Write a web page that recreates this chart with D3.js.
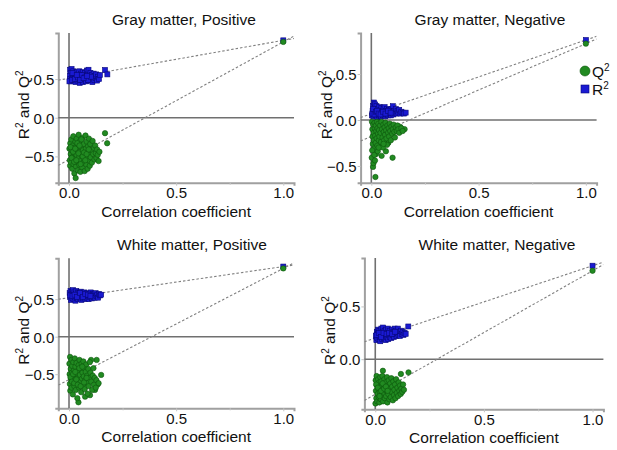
<!DOCTYPE html>
<html><head><meta charset="utf-8">
<script src="https://cdn.jsdelivr.net/npm/d3@7/dist/d3.min.js"></script>
<style>
html,body{margin:0;padding:0;background:#fff;}
svg text{font-family:"Liberation Sans",Arial,Helvetica,sans-serif;fill:#111;}
</style></head>
<body><svg id="c" width="617" height="450"></svg>
<script>
// ---- data ----
const titles = ["Gray matter, Positive","Gray matter, Negative","White matter, Positive","White matter, Negative"];
const xTicks = [0, 0.5, 1.0];
const xMinorTicks = [0.25, 0.75];
const yTicksByPanel = [[-0.5,0,0.5],[-0.5,0,0.5],[-0.5,0,0.5],[0,0.5]];
// original (non-permuted) model values at correlation 1
const origR2 = [1.00, 0.87, 0.935, 0.886];
const origQ2 = [0.98, 0.83, 0.91, 0.838];
// regression-line intercepts
const interceptR2 = [0.51, 0.067, 0.52, 0.20];
const interceptQ2 = [-0.54, -0.179, -0.572, -0.333];

const gpR2 = [[0.005,0.62],[0.012,0.63],[0.008,0.58],[0.004,0.54],[0.006,0.50],[0.010,0.47],[0.015,0.52],[0.018,0.56],[0.020,0.60],[0.022,0.49],[0.025,0.54],[0.028,0.57],[0.030,0.46],[0.032,0.51],[0.035,0.59],[0.038,0.53],[0.040,0.48],[0.043,0.56],[0.046,0.50],[0.048,0.60],[0.050,0.45],[0.053,0.53],[0.056,0.57],[0.058,0.49],[0.061,0.52],[0.064,0.59],[0.066,0.46],[0.069,0.55],[0.072,0.50],[0.075,0.58],[0.078,0.53],[0.080,0.47],[0.083,0.61],[0.086,0.51],[0.089,0.56],[0.091,0.62],[0.094,0.48],[0.097,0.54],[0.100,0.58],[0.103,0.50],[0.106,0.55],[0.109,0.46],[0.112,0.52],[0.115,0.57],[0.118,0.49],[0.121,0.54],[0.124,0.51],[0.127,0.56],[0.131,0.48],[0.135,0.53],[0.140,0.50],[0.144,0.55],[0.168,0.617],[0.179,0.56],[0.002,0.47],[0.014,0.49],[0.027,0.50],[0.042,0.52],[0.059,0.55],[0.074,0.52],[0.088,0.49],[0.102,0.53],[0.016,0.58],[0.036,0.55],[0.052,0.49],[0.068,0.51],[0.084,0.54]];
const gpQ2 = [[0.002,-0.40],[0.004,-0.55],[0.005,-0.62],[0.006,-0.33],[0.008,-0.47],[0.010,-0.58],[0.011,-0.28],[0.013,-0.42],[0.015,-0.66],[0.016,-0.51],[0.018,-0.36],[0.020,-0.24],[0.021,-0.60],[0.023,-0.45],[0.025,-0.72],[0.026,-0.39],[0.028,-0.53],[0.030,-0.31],[0.031,-0.78],[0.033,-0.63],[0.035,-0.48],[0.036,-0.27],[0.038,-0.57],[0.040,-0.42],[0.041,-0.68],[0.043,-0.35],[0.045,-0.22],[0.046,-0.52],[0.048,-0.61],[0.050,-0.44],[0.052,-0.30],[0.053,-0.70],[0.055,-0.56],[0.057,-0.38],[0.059,-0.49],[0.061,-0.64],[0.063,-0.26],[0.065,-0.42],[0.067,-0.58],[0.069,-0.34],[0.071,-0.53],[0.073,-0.69],[0.075,-0.46],[0.077,-0.23],[0.079,-0.40],[0.081,-0.61],[0.083,-0.31],[0.085,-0.50],[0.087,-0.66],[0.089,-0.37],[0.091,-0.55],[0.093,-0.27],[0.095,-0.45],[0.097,-0.62],[0.099,-0.34],[0.101,-0.51],[0.104,-0.42],[0.107,-0.58],[0.110,-0.30],[0.113,-0.47],[0.116,-0.39],[0.119,-0.54],[0.122,-0.36],[0.125,-0.46],[0.128,-0.52],[0.131,-0.41],[0.134,-0.48],[0.138,-0.56],[0.142,-0.44],[0.168,-0.20],[0.178,-0.33],[0.007,-0.38],[0.012,-0.52],[0.019,-0.44],[0.024,-0.57],[0.029,-0.40],[0.034,-0.55],[0.039,-0.33],[0.044,-0.46],[0.049,-0.36],[0.054,-0.60],[0.058,-0.28],[0.064,-0.50],[0.070,-0.45],[0.076,-0.55],[0.082,-0.47],[0.092,-0.41]];

const gnR2 = [[0.003,0.05],[0.006,0.10],[0.008,0.15],[0.010,0.04],[0.012,0.19],[0.014,0.08],[0.016,0.13],[0.018,0.17],[0.020,0.05],[0.022,0.11],[0.024,0.15],[0.026,0.07],[0.028,0.03],[0.030,0.12],[0.032,0.09],[0.035,0.05],[0.037,0.14],[0.040,0.08],[0.042,0.11],[0.045,0.04],[0.047,0.13],[0.050,0.07],[0.052,0.10],[0.055,0.05],[0.057,0.12],[0.060,0.08],[0.062,0.14],[0.065,0.04],[0.068,0.10],[0.070,0.06],[0.073,0.12],[0.076,0.08],[0.079,0.05],[0.082,0.11],[0.085,0.07],[0.088,0.09],[0.091,0.05],[0.094,0.12],[0.097,0.08],[0.100,0.15],[0.103,0.06],[0.106,0.10],[0.110,0.08],[0.114,0.12],[0.118,0.07],[0.122,0.10],[0.126,0.08],[0.130,0.11],[0.135,0.07],[0.140,0.09],[0.146,0.08],[0.152,0.07],[0.160,0.08],[0.005,0.07],[0.009,0.12],[0.015,0.06],[0.021,0.09],[0.027,0.10],[0.034,0.07],[0.043,0.06],[0.054,0.09],[0.066,0.07],[0.078,0.10],[0.090,0.08]];
const gnQ2 = [[0.019,-0.62],[0.008,-0.51],[0.010,-0.47],[0.002,-0.41],[0.022,-0.37],[0.048,-0.39],[0.068,-0.34],[0.099,-0.41],[0.040,-0.29],[0.079,-0.25],[0.155,-0.10],[0.135,-0.075],[0.003,-0.02],[0.005,-0.10],[0.006,-0.18],[0.007,-0.26],[0.009,-0.05],[0.011,-0.14],[0.012,-0.22],[0.013,-0.31],[0.015,-0.03],[0.016,-0.09],[0.018,-0.17],[0.020,-0.25],[0.021,-0.06],[0.023,-0.12],[0.025,-0.20],[0.026,-0.02],[0.028,-0.28],[0.029,-0.09],[0.031,-0.15],[0.033,-0.04],[0.035,-0.22],[0.036,-0.11],[0.038,-0.18],[0.041,-0.06],[0.043,-0.14],[0.045,-0.24],[0.047,-0.02],[0.050,-0.10],[0.052,-0.19],[0.054,-0.30],[0.056,-0.05],[0.058,-0.13],[0.060,-0.22],[0.062,-0.08],[0.064,-0.16],[0.066,-0.03],[0.069,-0.11],[0.071,-0.20],[0.073,-0.27],[0.075,-0.06],[0.078,-0.14],[0.081,-0.09],[0.083,-0.18],[0.086,-0.04],[0.088,-0.12],[0.091,-0.22],[0.094,-0.07],[0.097,-0.15],[0.100,-0.10],[0.104,-0.05],[0.107,-0.13],[0.110,-0.19],[0.114,-0.08],[0.118,-0.12],[0.122,-0.06],[0.126,-0.10],[0.130,-0.14],[0.140,-0.09],[0.146,-0.12],[0.004,-0.33],[0.014,-0.38],[0.017,-0.44],[0.030,-0.34],[0.034,-0.30],[0.057,-0.26]];

const wpR2 = [[0.003,0.58],[0.005,0.53],[0.007,0.61],[0.009,0.49],[0.011,0.56],[0.013,0.60],[0.015,0.52],[0.017,0.57],[0.019,0.62],[0.021,0.50],[0.023,0.55],[0.025,0.59],[0.028,0.53],[0.030,0.48],[0.032,0.57],[0.034,0.61],[0.036,0.51],[0.039,0.55],[0.041,0.59],[0.043,0.50],[0.046,0.54],[0.048,0.58],[0.050,0.52],[0.053,0.56],[0.055,0.60],[0.058,0.49],[0.060,0.54],[0.063,0.57],[0.066,0.51],[0.068,0.55],[0.071,0.59],[0.074,0.53],[0.077,0.50],[0.080,0.56],[0.083,0.52],[0.086,0.58],[0.089,0.54],[0.092,0.50],[0.095,0.56],[0.098,0.53],[0.101,0.59],[0.104,0.55],[0.107,0.51],[0.110,0.57],[0.113,0.53],[0.116,0.56],[0.120,0.52],[0.124,0.58],[0.128,0.54],[0.132,0.56],[0.136,0.52],[0.140,0.57],[0.145,0.55],[0.150,0.56],[0.006,0.55],[0.016,0.54],[0.026,0.56],[0.038,0.53],[0.052,0.58],[0.064,0.53],[0.076,0.57],[0.088,0.56],[0.100,0.54]];
const wpQ2 = [[0.005,-0.27],[0.103,-0.31],[0.129,-0.31],[0.150,-0.51],[0.044,-0.875],[0.075,-0.80],[0.098,-0.78],[0.121,-0.71],[0.133,-0.64],[0.002,-0.36],[0.003,-0.50],[0.004,-0.63],[0.006,-0.72],[0.008,-0.43],[0.009,-0.56],[0.011,-0.31],[0.012,-0.68],[0.014,-0.48],[0.015,-0.39],[0.017,-0.60],[0.018,-0.77],[0.020,-0.34],[0.022,-0.53],[0.023,-0.45],[0.025,-0.66],[0.027,-0.29],[0.028,-0.58],[0.030,-0.40],[0.032,-0.71],[0.033,-0.50],[0.035,-0.35],[0.037,-0.62],[0.039,-0.82],[0.040,-0.46],[0.042,-0.55],[0.045,-0.38],[0.047,-0.68],[0.049,-0.31],[0.051,-0.51],[0.053,-0.60],[0.055,-0.43],[0.057,-0.74],[0.059,-0.36],[0.061,-0.56],[0.063,-0.48],[0.065,-0.65],[0.067,-0.33],[0.069,-0.53],[0.071,-0.42],[0.073,-0.70],[0.076,-0.58],[0.078,-0.47],[0.080,-0.37],[0.083,-0.62],[0.085,-0.52],[0.087,-0.76],[0.090,-0.43],[0.092,-0.66],[0.095,-0.55],[0.097,-0.34],[0.100,-0.48],[0.104,-0.60],[0.108,-0.71],[0.111,-0.52],[0.114,-0.42],[0.117,-0.64],[0.120,-0.55],[0.125,-0.68],[0.128,-0.58],[0.138,-0.62],[0.007,-0.54],[0.013,-0.60],[0.019,-0.50],[0.024,-0.62],[0.029,-0.47],[0.034,-0.57],[0.041,-0.64],[0.048,-0.42],[0.054,-0.66],[0.062,-0.40],[0.070,-0.61],[0.082,-0.55]];

const wnR2 = [[0.003,0.22],[0.005,0.18],[0.007,0.26],[0.009,0.20],[0.011,0.24],[0.013,0.28],[0.015,0.19],[0.017,0.23],[0.019,0.27],[0.021,0.21],[0.023,0.17],[0.025,0.25],[0.028,0.29],[0.030,0.22],[0.032,0.19],[0.034,0.26],[0.036,0.30],[0.039,0.23],[0.041,0.20],[0.043,0.27],[0.046,0.24],[0.048,0.18],[0.050,0.28],[0.053,0.21],[0.055,0.25],[0.058,0.29],[0.060,0.19],[0.063,0.23],[0.066,0.27],[0.068,0.21],[0.071,0.25],[0.074,0.20],[0.077,0.28],[0.080,0.23],[0.083,0.26],[0.086,0.21],[0.089,0.29],[0.092,0.24],[0.095,0.27],[0.098,0.22],[0.101,0.25],[0.104,0.29],[0.107,0.23],[0.110,0.26],[0.114,0.22],[0.118,0.27],[0.122,0.24],[0.126,0.26],[0.130,0.23],[0.135,0.25],[0.140,0.24],[0.152,0.31],[0.006,0.23],[0.016,0.25],[0.026,0.21],[0.038,0.25],[0.052,0.24],[0.064,0.25],[0.078,0.24],[0.090,0.26]];
const wnQ2 = [[0.035,-0.11],[0.118,-0.14],[0.153,-0.125],[0.001,-0.42],[0.002,-0.20],[0.003,-0.30],[0.005,-0.37],[0.006,-0.16],[0.008,-0.25],[0.009,-0.40],[0.011,-0.33],[0.013,-0.19],[0.014,-0.28],[0.016,-0.36],[0.018,-0.22],[0.019,-0.41],[0.021,-0.31],[0.023,-0.17],[0.025,-0.26],[0.026,-0.38],[0.028,-0.21],[0.030,-0.34],[0.032,-0.29],[0.033,-0.16],[0.036,-0.40],[0.038,-0.24],[0.040,-0.32],[0.042,-0.19],[0.044,-0.37],[0.046,-0.27],[0.048,-0.22],[0.050,-0.35],[0.052,-0.30],[0.054,-0.17],[0.056,-0.41],[0.058,-0.25],[0.060,-0.33],[0.062,-0.20],[0.065,-0.38],[0.067,-0.28],[0.069,-0.23],[0.071,-0.36],[0.074,-0.18],[0.076,-0.31],[0.078,-0.26],[0.081,-0.39],[0.083,-0.21],[0.086,-0.34],[0.088,-0.29],[0.091,-0.24],[0.093,-0.37],[0.096,-0.19],[0.099,-0.32],[0.102,-0.27],[0.105,-0.35],[0.108,-0.22],[0.111,-0.30],[0.114,-0.25],[0.117,-0.33],[0.120,-0.28],[0.124,-0.31],[0.128,-0.24],[0.132,-0.29],[0.004,-0.24],[0.012,-0.27],[0.020,-0.35],[0.027,-0.30],[0.034,-0.23],[0.041,-0.28],[0.049,-0.26],[0.057,-0.30]];

const r2Series = [gpR2, gnR2, wpR2, wnR2];
const q2Series = [gpQ2, gnQ2, wpQ2, wnQ2];

// ---- layout (pixels) ----
const xDomain = [-0.05, 1.05];
const layout = [
  {L:58.3, R:294,   T:33,    B:182.7, yDom:[-0.84,1.095], titleX:184},
  {L:360.6,R:596.6, T:33,    B:182.7, yDom:[-0.682,0.946], titleX:490, legend:true},
  {L:58.3, R:294,   T:258.3, B:408.3, yDom:[-0.955,1.045], titleX:192},
  {L:364.4,R:603.4, T:258,   B:409.3, yDom:[-0.475,0.959], titleX:497}
];

const BLUE = "#1a1ad2", BLUE_S = "#08087a";
const GREEN = "#218a21", GREEN_S = "#0b560b";
const FS = 15;

const svg = d3.select("#c");

// writes text pieces, raising superscripts and lowering back for following text
function sup(textSel, parts){
  let raised = false;
  parts.forEach(p=>{
    const ts = textSel.append("tspan").text(p.t);
    if(p.sup){
      ts.attr("font-size", 10).attr("dy", -6);
      raised = true;
    } else if(raised){
      ts.attr("dy", 6);
      raised = false;
    }
  });
}

layout.forEach((lo, i)=>{
  const x = d3.scaleLinear().domain(xDomain).range([lo.L, lo.R]);
  const y = d3.scaleLinear().domain(lo.yDom).range([lo.B, lo.T]);
  const g = svg.append("g");
  const clipId = "clip"+i;
  svg.append("clipPath").attr("id", clipId).append("rect")
    .attr("x", lo.L).attr("y", lo.T).attr("width", lo.R-lo.L).attr("height", lo.B-lo.T);

  // axes
  const xa = g.append("g").attr("transform", `translate(0,${lo.B})`)
    .call(d3.axisBottom(x).tickValues(xTicks).tickSizeOuter(0).tickSize(3).tickPadding(2).tickFormat(d3.format(".1f")));
  const xm = g.append("g").attr("transform", `translate(0,${lo.B})`)
    .call(d3.axisBottom(x).tickValues(xMinorTicks).tickSizeOuter(0).tickSize(2).tickFormat(""));
  xm.select(".domain").remove();
  xm.selectAll(".tick text").remove();
  const ya = g.append("g").attr("transform", `translate(${lo.L},0)`)
    .call(d3.axisLeft(y).tickValues(yTicksByPanel[i]).tickSizeOuter(0).tickSize(3).tickPadding(1).tickFormat(d3.format(".1f")));
  [xa, ya].forEach(a=>{
    a.select(".domain").attr("stroke", "#a0a0a0").attr("stroke-width", 2);
    a.selectAll(".tick text").attr("font-size", FS).attr("fill", "#111")
      .style("font-family", '"Liberation Sans",Arial,sans-serif');
  });
  [xa, xm, ya].forEach(a=> a.selectAll(".tick line").attr("stroke", "#c4c4c4").attr("stroke-width", 1));
  xa.selectAll(".tick text").attr("dy", "0.71em");
  ya.selectAll(".tick text").attr("dy", "0.36em");

  // zero lines
  g.append("line").attr("x1", lo.L).attr("x2", lo.R).attr("y1", y(0)).attr("y2", y(0))
    .attr("stroke", "#707070").attr("stroke-width", 1.4);
  g.append("line").attr("x1", x(0)).attr("x2", x(0)).attr("y1", lo.T).attr("y2", lo.B)
    .attr("stroke", "#707070").attr("stroke-width", 1.6);

  // regression lines
  const lines = [[interceptR2[i], origR2[i]], [interceptQ2[i], origQ2[i]]];
  const cg = g.append("g").attr("clip-path", `url(#${clipId})`);
  lines.forEach(([b, v])=>{
    const f = t => b + (v - b) * t;
    cg.append("line").attr("x1", x(xDomain[0])).attr("y1", y(f(xDomain[0])))
      .attr("x2", x(xDomain[1])).attr("y2", y(f(xDomain[1])))
      .attr("stroke", "#808080").attr("stroke-width", 1.1).attr("stroke-dasharray", "2.5,2");
  });

  // points
  const q2 = q2Series[i].concat([[1, origQ2[i]]]);
  const r2 = r2Series[i].concat([[1, origR2[i]]]);
  cg.selectAll("rect.r2").data(r2).enter().append("rect").attr("class","r2")
    .attr("x", d=>x(d[0])-2.5).attr("y", d=>y(d[1])-2.5).attr("width", 5).attr("height", 5)
    .attr("fill", BLUE).attr("stroke", BLUE_S).attr("stroke-width", 0.6);
  cg.selectAll("circle.q2").data(q2).enter().append("circle").attr("class","q2")
    .attr("cx", d=>x(d[0])).attr("cy", d=>y(d[1])).attr("r", 2.7)
    .attr("fill", GREEN).attr("stroke", GREEN_S).attr("stroke-width", 0.6);

  // titles
  g.append("text").attr("x", lo.titleX).attr("y", lo.T - 8).attr("text-anchor", "middle")
    .attr("font-size", 15.5).text(titles[i]);
  g.append("text").attr("x", (lo.L+lo.R)/2).attr("y", lo.B + 34).attr("text-anchor", "middle")
    .attr("font-size", 15.5).text("Correlation coefficient");
  const yl = g.append("text").attr("transform", `translate(${lo.L-29},${(lo.T+lo.B)/2 - 3}) rotate(-90)`)
    .attr("text-anchor", "middle").attr("font-size", 15.5);
  sup(yl, [{t:"R"},{t:"2",sup:true},{t:" and Q"},{t:"2",sup:true}]);

  if(lo.legend){
    const lx = 585, ly1 = 71, ly2 = 89;
    g.append("circle").attr("cx", lx).attr("cy", ly1).attr("r", 5).attr("fill", GREEN).attr("stroke", GREEN_S).attr("stroke-width", 0.6);
    g.append("rect").attr("x", lx-4).attr("y", ly2-4).attr("width", 8).attr("height", 8).attr("fill", BLUE).attr("stroke", BLUE_S).attr("stroke-width", 0.6);
    const t1 = g.append("text").attr("x", lx+7).attr("y", ly1+5.5).attr("font-size", 15.5);
    sup(t1, [{t:"Q"},{t:"2",sup:true}]);
    const t2 = g.append("text").attr("x", lx+7).attr("y", ly2+5.5).attr("font-size", 15.5);
    sup(t2, [{t:"R"},{t:"2",sup:true}]);
  }
});
</script></body></html>
